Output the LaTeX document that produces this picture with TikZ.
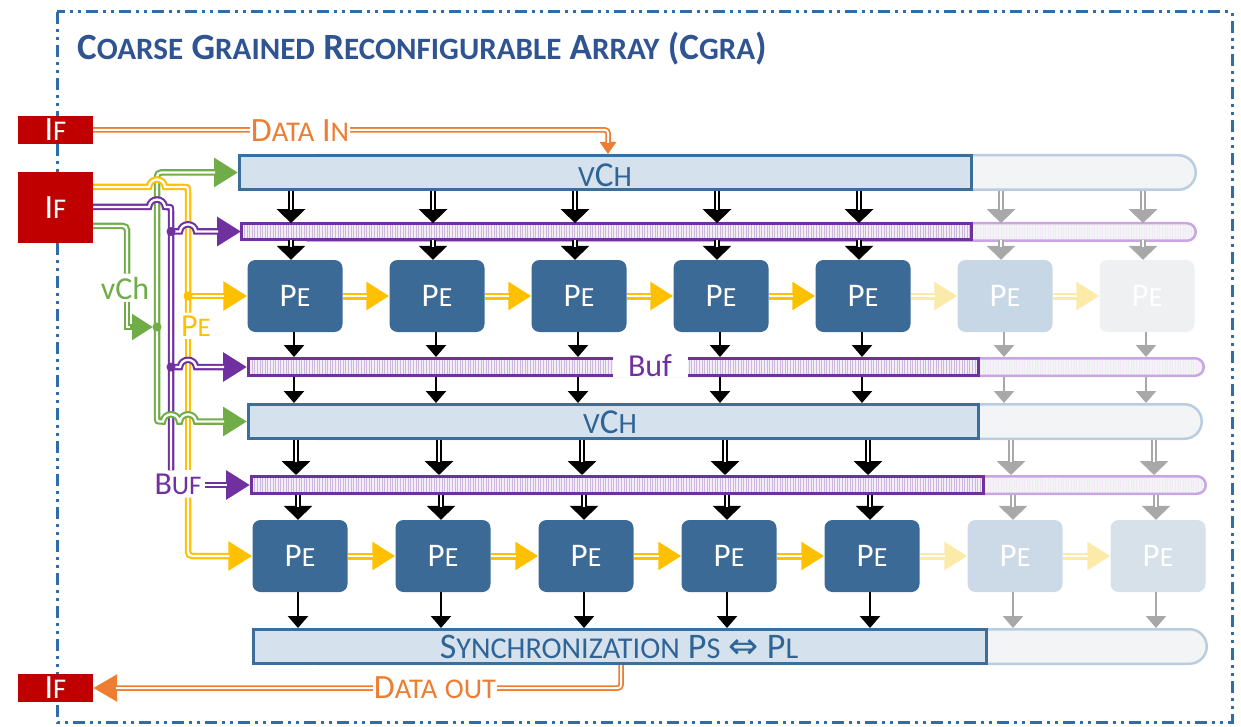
\documentclass[tikz,border=0pt]{standalone}
\usepackage{fontspec}
\setmainfont{Carlito}
\newfontfamily\symfont{DejaVu Sans}
\usepackage{graphicx}
\usetikzlibrary{arrows.meta,patterns.meta}

\definecolor{frameblue}{HTML}{2E6DA8}
\definecolor{titleblue}{HTML}{2F5491}
\definecolor{ifred}{HTML}{C00000}
\definecolor{dorange}{HTML}{ED7D31}
\definecolor{wgreen}{HTML}{70AD47}
\definecolor{wyellow}{HTML}{FFC000}
\definecolor{wpurple}{HTML}{7030A0}
\definecolor{pefill}{HTML}{3B6A97}
\definecolor{chfill}{HTML}{D5E1EC}
\definecolor{chline}{HTML}{3C6E9C}
\definecolor{chtext}{HTML}{2E6496}
\definecolor{extfill}{HTML}{F3F4F5}
\definecolor{extline}{HTML}{BACDE0}
\definecolor{extpurple}{HTML}{C9A6E0}
\definecolor{buffill}{HTML}{F3EDF8}
\definecolor{bufhatch}{HTML}{CDB7DF}
\definecolor{fadearrow}{HTML}{A8A8A8}
\definecolor{fadeyellow}{HTML}{FBEAA8}
\definecolor{fadepeA}{HTML}{C7D7E6}
\definecolor{fadepeB}{HTML}{EEF0F2}
\definecolor{fadepeC}{HTML}{CCD9E6}
\definecolor{fadepeD}{HTML}{D6E1EA}

% small-capital letters: upper case at a reduced size
\newcommand\sm[1]{\scalebox{0.84}{#1}}

\begin{document}
\begin{tikzpicture}[x=1pt,y=-1pt,
  every node/.style={inner sep=0pt},
  fs/.style={font=\fontsize{#1}{#1}\selectfont},
  ifbox/.style={fill=ifred, text=white, minimum width=75pt, fs=34},
  pebox/.style={fill=#1, text=white, rounded corners=8pt, minimum width=95pt, minimum height=72pt, fs=33},
  chbar/.style={draw=chline, line width=3pt, fill=chfill, minimum height=34pt},
  bufbar/.style={draw=wpurple, line width=3pt, preaction={fill=buffill},
    pattern={Lines[angle=90,distance=2.6pt,line width=0.8pt]}, pattern color=bufhatch, minimum height=17pt},
  chext/.style={draw=extline, line width=2.5pt, fill=extfill, rounded corners=#1},
  bufext/.style={draw=extpurple, line width=2.5pt, preaction={fill=extfill},
    pattern={Lines[angle=90,distance=2.6pt,line width=0.5pt]}, pattern color=extpurple!25, rounded corners=#1},
  bartext/.style={text=chtext, fs=#1},
  wire/.style={draw=#1, line width=6.5pt, rounded corners=4pt, postaction={draw=white, line width=2.3pt}},
  awire/.style={draw=#1, line width=6.5pt, rounded corners=4pt, -{Triangle[length=24pt,width=28pt]},
    postaction={draw=white, line width=2.3pt, -, shorten >=23pt}},
  pearr/.style={draw=#1, line width=7pt, -{Triangle[length=23pt,width=27pt]},
    postaction={draw=white, line width=2.4pt, -, shorten >=22pt}},
  dnarr/.style={draw=#1, line width=6pt, -{Triangle[length=14pt,width=28pt]},
    postaction={draw=white, line width=2pt, -, shorten >=13pt}},
  snarr/.style={draw=#1, line width=2.5pt, -{Triangle[length=12pt,width=20pt]}},
  owire/.style={draw=dorange, line width=5.5pt, rounded corners=3pt,
    postaction={draw=white, line width=2pt, -, shorten >=#1}},
  tag/.style={text=#1, inner sep=3pt},
]
\useasboundingbox (0,0) rectangle (1241,727);

% dash-dot-dot frame
\draw[frameblue, line width=3pt, dash pattern=on 12pt off 5pt on 3pt off 5pt on 3pt off 5pt]
  (57,12) rectangle (1232,722);

\node[anchor=base west, text=titleblue, font=\bfseries\fontsize{37}{37}\selectfont] (title) at (77,60)
  {C\sm{OARSE} G\sm{RAINED} R\sm{ECONFIGURABLE} A\sm{RRAY} (C\sm{GRA})};

% interfaces
\node[ifbox, minimum height=28pt] (if1) at (55.5,130) {I\sm{F}};
\node[ifbox, minimum height=71pt] (if2) at (55.5,207.5) {I\sm{F}};
\node[ifbox, minimum height=28pt] (if3) at (55.5,688) {I\sm{F}};

% faded extensions of the bars
\draw[chext=17.25pt] (300,155.25) rectangle (1195.75,189.75);
\draw[bufext=8.75pt] (300,223.25) rectangle (1195.75,240.75);
\draw[bufext=8.75pt] (300,358.25) rectangle (1203.75,375.75);
\draw[chext=17.25pt] (300,404.25) rectangle (1201.75,438.75);
\draw[bufext=8.75pt] (300,476.25) rectangle (1205.75,493.75);
\draw[chext=17.25pt] (300,629.25) rectangle (1206.75,663.75);

% channel and buffer bars
\node[chbar, minimum width=732pt] (vch1) at (605.5,172.5) {};
\node[bufbar, minimum width=730pt, minimum height=16pt] (buf1) at (606.5,231.5) {};
\node[bufbar, minimum width=730pt] (buf2) at (613.5,367) {};
\node[chbar, minimum width=730pt] (vch2) at (613.5,421.5) {};
\node[bufbar, minimum width=732pt] (buf3) at (617.5,485) {};
\node[chbar, minimum width=733pt] (sync) at (620,646.5) {};

\node[bartext=35] (vch1t) at (605,175) {\sm{V}C\sm{H}};
\node[bartext=35] (vch2t) at (610,422) {\sm{V}C\sm{H}};
\node[bartext=36] (synct) at (619,647) {S\sm{YNCHRONIZATION} P\sm{S} {\symfont ⇔} P\sm{L}};
\node[fill=white, text=wpurple, fs=32, minimum width=75pt, minimum height=22pt] (bufin) at (650,366) {Buf};

% processing elements
\foreach \i in {1,...,5} {
  \node[pebox=pefill] (pa\i) at ({295+142*(\i-1)},296) {P\sm{E}};
  \node[pebox=pefill] (pb\i) at ({300+143*(\i-1)},556) {P\sm{E}};
}
\node[pebox=fadepeA] (pa6) at (1005,296) {P\sm{E}};
\node[pebox=fadepeB] (pa7) at (1147,296) {P\sm{E}};
\node[pebox=fadepeC] (pb6) at (1015,556) {P\sm{E}};
\node[pebox=fadepeD] (pb7) at (1158,556) {P\sm{E}};

% horizontal PE-to-PE links
\foreach \i/\j in {1/2,2/3,3/4,4/5} {
  \draw[pearr=wyellow] (pa\i.east) -- (pa\j.west);
  \draw[pearr=wyellow] (pb\i.east) -- (pb\j.west);
}
\foreach \i/\j in {5/6,6/7} {
  \draw[pearr=fadeyellow] (pa\i.east) -- (pa\j.west);
  \draw[pearr=fadeyellow] (pb\i.east) -- (pb\j.west);
}

% vertical data flow through the columns
\foreach \i in {1,...,7} {
  \pgfmathsetmacro\xa{295+142*(\i-1)}
  \pgfmathsetmacro\xc{296+143*(\i-1)}
  \pgfmathsetmacro\xd{298+143*(\i-1)}
  \ifnum\i<6 \def\ac{black}\else\def\ac{fadearrow}\fi
  \coordinate (ca\i) at (\xa-4,0);
  \coordinate (cb\i) at (\xa-1,0);
  \coordinate (cc\i) at (\xc,0);
  \coordinate (cd\i) at (\xd,0);
  \draw[dnarr=\ac] (ca\i |- vch1.south) -- (ca\i |- buf1.north);
  \draw[dnarr=\ac] (ca\i |- buf1.south) -- (ca\i |- pa\i.north);
  \draw[snarr=\ac] (cb\i |- pa\i.south) -- (cb\i |- buf2.north);
  \draw[snarr=\ac] (cb\i |- buf2.south) -- (cb\i |- vch2.north);
  \draw[dnarr=\ac] (cc\i |- vch2.south) -- (cc\i |- buf3.north);
  \draw[dnarr=\ac] (cd\i |- buf3.south) -- (cd\i |- pb\i.north);
  \draw[snarr=\ac] (cd\i |- pb\i.south) -- (cd\i |- sync.north);
}

% data in / data out
\coordinate (din) at (608,0);
\draw[owire=11pt, -{Triangle[length=12pt,width=16pt]}] (if1.east) -- (din |- if1.east) -- (din |- vch1.north);
\node[tag=dorange, fs=34, inner xsep=1pt, fill=white] (dinl) at (300,131) {D\sm{ATA} I\sm{N}};
\coordinate (dout) at (621,0);
\draw[owire=23pt, -{Triangle[length=24pt,width=26pt]}] (dout |- sync.south) -- (dout |- if3.east) -- (if3.east);
\node[tag=dorange, fs=34, inner xsep=1pt, fill=white] (doutl) at (435,688) {D\sm{ATA} \sm{OUT}};

% configuration wiring from the interface
\node[tag=wgreen, fs=32] (vchl) at (125,288) {vCh};
\node[tag=wyellow, fs=32] (pel) at (196,326) {P\sm{E}};
\node[tag=wpurple, fs=32] (bufl) at (178,484) {B\sm{UF}};

\coordinate (gl) at (127,0);
\coordinate (yx) at (188,0);
\coordinate (px) at (171,0);
\coordinate (gin) at (0,226);
\coordinate (yin) at (0,187);
\coordinate (pin) at (0,207);
\coordinate (gdot) at (157,327);
\coordinate (gtip) at (153,327);
\coordinate (ydot) at (188,296);
\coordinate (pdot1) at (171,231.5);
\coordinate (pdot2) at (171,367);

% green: channel configuration
\draw[awire=wgreen] (gdot) -- (gdot |- vch1.west) -- (vch1.west);
\draw[wire=wgreen] (if2.east |- gin) -- (gl |- gin) -- (gl |- vchl.north);
\draw[awire=wgreen, sharp corners, -{Triangle[length=21pt,width=25pt]}] (gl |- vchl.south) -- (gl |- gtip) -- (gtip);

% yellow: PE configuration
\draw[wire=wyellow, sharp corners] (if2.east |- yin) -- (149,187) .. controls (150,177) and (164,177) .. (165,187)
  -- (183,187) .. controls (188,187) .. (188,192) -- (yx |- pel.north);
\draw[awire=wyellow] (ydot) -- (pa1.west);
\draw[wire=wyellow] (yx |- pel.south) -- (yx |- bufl.north);
\draw[awire=wyellow] (yx |- bufl.south) -- (yx |- pb1.west) -- (pb1.west);

% purple: buffer configuration
\draw[wire=wpurple, sharp corners] (if2.east |- pin) -- (149,207) .. controls (150,197) and (164,197) .. (165,207)
  -- (167,207) .. controls (171,207) .. (171,211) -- (px |- bufl.north);
\draw[awire=wpurple, sharp corners] (pdot1) -- (180,231.5) .. controls (181,222) and (195,222) .. (196,231.5) -- (buf1.west);
\draw[awire=wpurple, sharp corners] (pdot2) -- (180,367) .. controls (181,357.5) and (195,357.5) .. (196,367) -- (buf2.west);
\draw[awire=wpurple] (bufl.east |- buf3.west) -- (buf3.west);

% green: second channel, hopping over purple and yellow
\draw[awire=wgreen, sharp corners] (gdot) -- (157,416.5) .. controls (157,421.5) .. (162,421.5)
  -- (163,421.5) .. controls (164,412) and (178,412) .. (179,421.5)
  -- (180,421.5) .. controls (181,412) and (195,412) .. (196,421.5) -- (vch2.west);

% junction dots
\fill[wgreen] (gdot) circle (4.5pt);
\fill[wyellow] (ydot) circle (4.5pt);
\fill[wpurple] (pdot1) circle (4.5pt);
\fill[wpurple] (pdot2) circle (4.5pt);
\end{tikzpicture}
\end{document}
